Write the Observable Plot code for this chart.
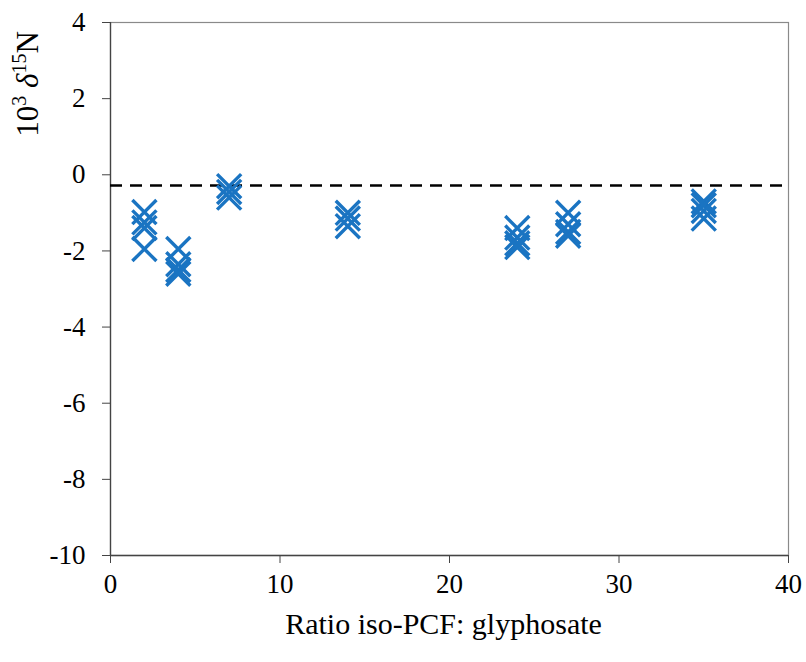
<!DOCTYPE html>
<html>
<head>
<meta charset="utf-8">
<script src="https://cdn.jsdelivr.net/npm/d3@7"></script>
<script src="https://cdn.jsdelivr.net/npm/@observablehq/plot@0.6"></script>
<style>
  html, body { margin: 0; padding: 0; background: #fff; }
</style>
</head>
<body>
<div id="chart"></div>
<script>
const ratios = [2, 2, 2, 2, 4, 4, 4, 4, 7, 7, 7, 14, 14, 14, 24, 24, 24, 24, 27, 27, 27, 27, 35, 35, 35, 35];
const delta15N = [-0.98, -1.25, -1.4, -1.95, -1.95, -2.35, -2.5, -2.6, -0.3, -0.45, -0.6, -1.0, -1.15, -1.35, -1.4, -1.65, -1.8, -1.9, -1.0, -1.3, -1.5, -1.6, -0.7, -0.8, -0.95, -1.15];
const referenceLine = [-0.28];
const xTicks = [0, 10, 20, 30, 40];
const yTicks = [-10, -8, -6, -4, -2, 0, 2, 4];
const xLabel = "Ratio iso-PCF: glyphosate";

const data = ratios.map((r, i) => ({ratio: r, d: delta15N[i]}));
const fmt = d => String(d);
const serifStack = "'Liberation Serif', 'Times New Roman', serif";

const chart = Plot.plot({
  width: 806,
  height: 662,
  marginLeft: 110,
  marginRight: 18,
  marginTop: 22,
  marginBottom: 107,
  style: {fontSize: "26px", color: "#000", background: "#fff"},
  x: {domain: [0, 40], label: null},
  y: {domain: [-10, 4], label: null},
  marks: [
    Plot.frame({stroke: "#8a8a8a", strokeWidth: 1.2}),
    Plot.axisX({ticks: xTicks, tickFormat: fmt, tickSize: 8, tickPadding: 10, fontSize: 27, label: null, stroke: "#444"}),
    Plot.axisY({ticks: yTicks, tickFormat: fmt, tickSize: 8, tickPadding: 17, fontSize: 27, label: null, stroke: "#444"}),
    Plot.ruleX([0], {stroke: "#444", strokeWidth: 1.3}),
    Plot.ruleY([-10], {stroke: "#444", strokeWidth: 1.3}),
    Plot.ruleY(referenceLine, {stroke: "#000", strokeWidth: 2.5, strokeDasharray: "12,8"}),
    Plot.dot(data, {x: "ratio", y: "d", symbol: "times", r: 11, stroke: "#1a74c2", strokeWidth: 3.4}),
    Plot.text([xLabel], {frameAnchor: "bottom", dx: -6, dy: 78, fontSize: 30, text: d => d})
  ]
});

document.getElementById("chart").appendChild(chart);

const svg = d3.select(chart);
svg.selectAll("text").attr("font-family", serifStack).style("font-family", serifStack);

// Rotated y-axis label with superscripts
const t = svg.append("text")
  .attr("transform", "translate(38,84) rotate(-90)")
  .attr("text-anchor", "middle")
  .attr("font-family", serifStack)
  .attr("font-size", 31)
  .attr("fill", "#000");
t.append("tspan").text("10");
t.append("tspan").attr("font-size", 20).attr("dy", -12).text("3");
t.append("tspan").attr("dy", 12).text(" ");
t.append("tspan").attr("font-style", "italic").text("δ");
t.append("tspan").attr("font-size", 20).attr("dy", -12).text("15");
t.append("tspan").attr("dy", 12).text("N");
</script>
</body>
</html>
